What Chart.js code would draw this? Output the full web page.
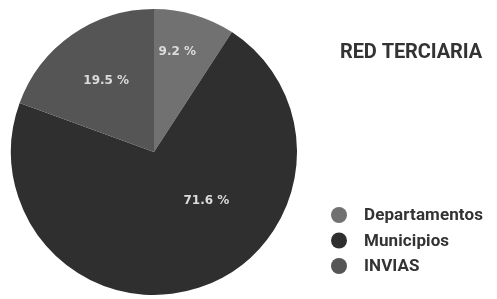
<!DOCTYPE html>
<html>
<head>
<meta charset="utf-8">
<script src="https://cdn.jsdelivr.net/npm/chart.js@4.4.1/dist/chart.umd.min.js"></script>
<style>
html,body{margin:0;padding:0;background:#fff;}
#wrap{position:relative;width:497px;height:299px;}
</style>
</head>
<body>
<div id="wrap"><canvas id="c" width="497" height="299"></canvas></div>
<script>
const title = "RED TERCIARIA";
const categories = ["Departamentos", "Municipios", "INVIAS"];
const shares = [9.2, 71.6, 19.5];
const colors = ["#717171", "#2f2f2f", "#555555"];

const FONT = "Roboto, sans-serif";

const overlay = {
  id: 'overlay',
  afterDatasetsDraw(chart, args, opts) {
    const ctx = chart.ctx;
    const meta = chart.getDatasetMeta(0);
    ctx.save();
    // slice value labels
    ctx.fillStyle = '#dcdcdc';
    ctx.font = "bold 12px 'DejaVu Sans', sans-serif";
    ctx.textAlign = 'center';
    ctx.textBaseline = 'middle';
    meta.data.forEach((arc, i) => {
      const p = arc.getProps(['x','y','startAngle','endAngle','outerRadius'], true);
      const mid = (p.startAngle + p.endAngle) / 2 + opts.angleShift[i];
      const r = p.outerRadius * opts.radiusFrac[i];
      const txt = chart.data.datasets[0].data[i].toFixed(1) + ' %';
      ctx.fillText(txt, p.x + Math.cos(mid) * r, p.y + Math.sin(mid) * r);
    });
    // title
    ctx.textAlign = 'left';
    ctx.fillStyle = '#333';
    ctx.font = "bold 20px " + FONT;
    if ('letterSpacing' in ctx) ctx.letterSpacing = '-0.1px';
    ctx.fillText(chart.data.title, 340, 53);
    // legend
    ctx.font = "bold 17px " + FONT;
    if ('letterSpacing' in ctx) ctx.letterSpacing = '0.1px';
    chart.data.labels.forEach((lab, i) => {
      const y = 215 + i * 25.5;
      ctx.fillStyle = chart.data.datasets[0].backgroundColor[i];
      ctx.beginPath();
      ctx.arc(339, y, 8, 0, Math.PI * 2);
      ctx.fill();
      ctx.fillStyle = '#333';
      ctx.fillText(lab, 364, y + 1);
    });
    ctx.restore();
  }
};

const chart = new Chart(document.getElementById('c'), {
  type: 'pie',
  data: {
    title: title,
    labels: categories,
    datasets: [{
      data: shares,
      backgroundColor: colors,
      borderWidth: 0
    }]
  },
  options: {
    responsive: false,
    animation: false,
    layout: { padding: { left: 11, right: 200, top: 9, bottom: 4 } },
    plugins: {
      legend: { display: false },
      tooltip: { enabled: false },
      overlay: { radiusFrac: [0.72, 0.5, 0.6], angleShift: [-0.06, -0.5, 0.02] }
    }
  },
  plugins: [overlay]
});
</script>
</body>
</html>
